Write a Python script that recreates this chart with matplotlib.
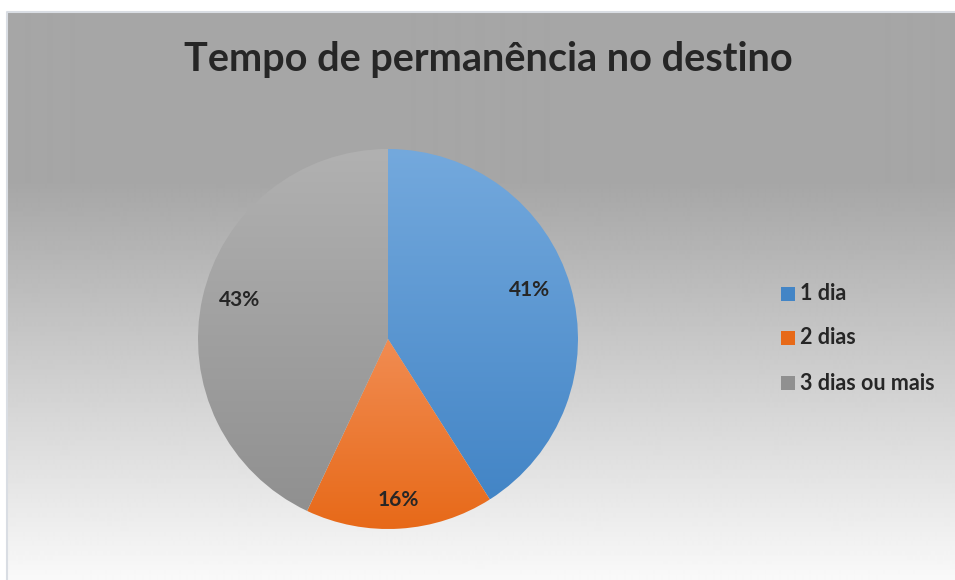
import matplotlib.pyplot as plt
import numpy as np
from matplotlib.colors import LinearSegmentedColormap
from matplotlib.lines import Line2D
from matplotlib.patches import Rectangle

plt.rcParams["font.family"] = ["Lato", "DejaVu Sans"]

TITLE = "Tempo de permanência no destino"
categories = ["1 dia", "2 dias", "3 dias ou mais"]
shares = [41, 16, 43]
# (top colour, bottom colour) for each slice gradient
slice_colors = [("#74a9dd", "#4385c6"), ("#f18c52", "#e76918"), ("#b1b1b1", "#909090")]
TEXT_COLOR = "#262626"

W, H = 955, 580
fig = plt.figure(figsize=(W / 100, H / 100), dpi=100)
fig.patch.set_facecolor("white")

# chart area background: flat grey at top, fading to white at bottom
x0, top_y = 7 / W, 1 - 12 / H
bg_ax = fig.add_axes([x0, 0, 1 - x0, top_y])
bg_ax.set_axis_off()
rows = 568
t = np.linspace(0, 1, rows)
flat = 170 / rows
vals = np.where(t < flat, 0.0, (t - flat) / (1 - flat))
g0, g1 = 166 / 255, 249 / 255
col = g0 + (g1 - g0) * vals
bg_ax.imshow(np.repeat(col[:, None], 2, axis=1), cmap="gray", vmin=0, vmax=1,
             aspect="auto", extent=[0, 1, 0, 1], interpolation="bilinear")
bg_ax.set_xlim(0, 1)
bg_ax.set_ylim(0, 1)
fig.add_artist(Line2D([x0, x0, 1], [0, top_y, top_y], transform=fig.transFigure,
                      color="#d9dde3", linewidth=1.5))

fig.text(488 / W, 1 - 60 / H, TITLE, ha="center", va="center",
         fontsize=28.5, fontweight="bold", color=TEXT_COLOR)

# pie axes: centre (388, 339), radius 190 px
cx, cy, r = 388, 339, 190
ax = fig.add_axes([(cx - r) / W, 1 - (cy + r) / H, 2 * r / W, 2 * r / H])
wedges, _ = ax.pie(shares, startangle=90, counterclock=False, radius=1,
                   wedgeprops=dict(linewidth=0, edgecolor="none"))
ax.set_xlim(-1, 1)
ax.set_ylim(-1, 1)
ax.set_aspect("equal")
ax.set_axis_off()

for w, (top, bottom) in zip(wedges, slice_colors):
    w.set_facecolor("none")
    verts = w.get_path().vertices
    ymin, ymax = verts[:, 1].min(), verts[:, 1].max()
    xmin, xmax = verts[:, 0].min(), verts[:, 0].max()
    cmap = LinearSegmentedColormap.from_list("g", [bottom, top])
    grad = np.linspace(0, 1, 256)[:, None]
    im = ax.imshow(grad, cmap=cmap, extent=[xmin, xmax, ymin, ymax], origin="lower",
                   aspect="auto", interpolation="bilinear", zorder=0)
    im.set_clip_path(w)

# percentage labels
label_pos = [(530, 290), (398, 500), (240, 300)]
for (px, py), s in zip(label_pos, shares):
    fig.text(px / W, 1 - py / H, f"{s}%", ha="center", va="center",
             fontsize=15, fontweight="bold", color=TEXT_COLOR)

# legend
leg_y = [294, 338, 383]
for yy, name, (top, bottom) in zip(leg_y, categories, slice_colors):
    sq = 14
    fig.add_artist(Rectangle((781 / W, 1 - (yy + sq / 2) / H), sq / W, sq / H,
                             transform=fig.transFigure, facecolor=bottom, edgecolor="none"))
    fig.text(800 / W, 1 - yy / H, name, ha="left", va="center",
             fontsize=15.5, fontweight="bold", color=TEXT_COLOR)

fig.savefig("out.png", dpi=100)
